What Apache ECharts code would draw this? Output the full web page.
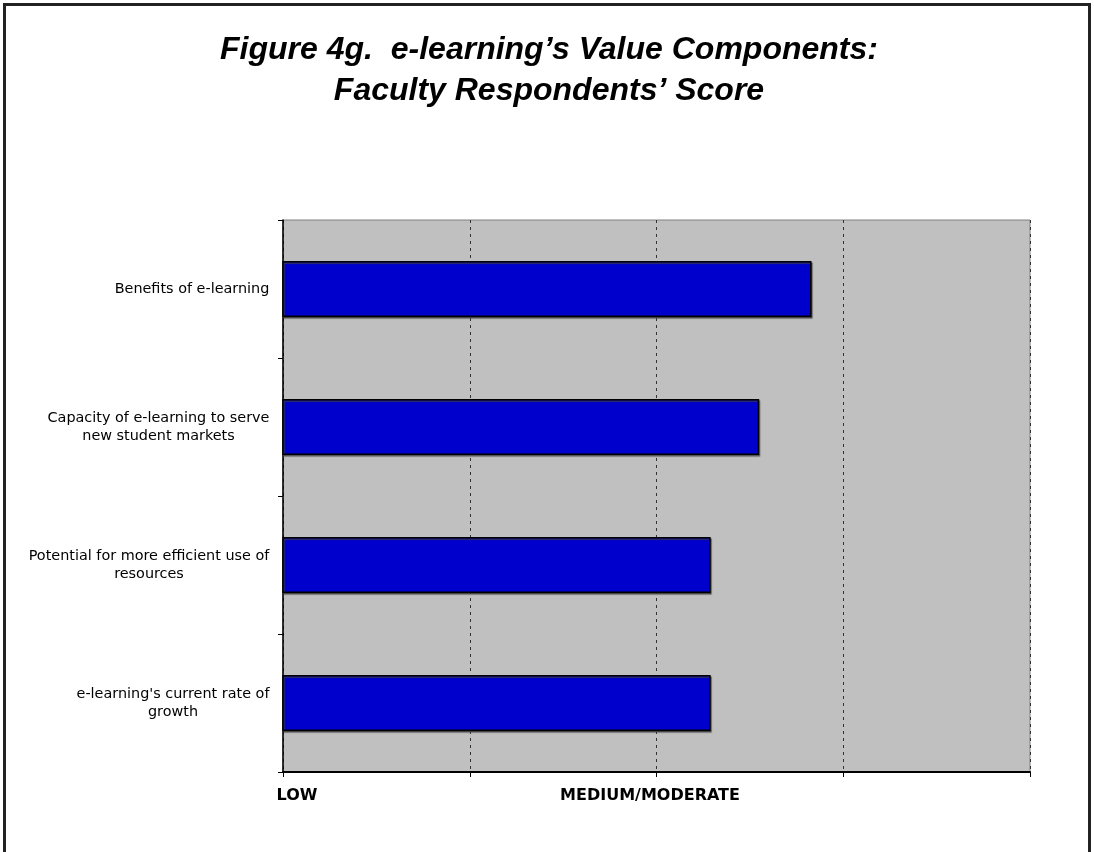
<!DOCTYPE html>
<html>
<head>
<meta charset="utf-8">
<script src="https://cdn.jsdelivr.net/npm/echarts@6/dist/echarts.min.js"></script>
<style>
html,body{margin:0;padding:0;background:#fff;overflow:hidden;}
#frame{position:absolute;left:3px;top:3px;width:1088px;height:860px;border-left:3px solid #222;border-top:3px solid #222;border-right:3px solid #222;box-sizing:border-box;}
#chart{position:absolute;left:0;top:0;width:1094px;height:852px;}
</style>
</head>
<body>
<div id="frame"></div>
<div id="chart"></div>
<script>
const categories = [
  'Benefits of e-learning',
  'Capacity of e-learning to serve\nnew student markets',
  'Potential for more efficient use of\nresources',
  "e-learning's current rate of\ngrowth"
];
const values = [3.83, 3.55, 3.29, 3.29];
const tickLabels = { 1: 'LOW', 3: 'MEDIUM/MODERATE' };
const titleLines = ['Figure 4g.  e-learning\u2019s Value Components:', 'Faculty Respondents\u2019 Score'];

const labelSize = 14.4;
const cv = document.createElement('canvas').getContext('2d');
cv.font = labelSize + 'px "DejaVu Sans"';
const rich = {};
categories.forEach((c, i) => {
  const w = Math.max(...c.split('\n').map(l => cv.measureText(l).width));
  rich['c' + i] = { width: Math.ceil(w) + 1, align: 'center', fontFamily: '"DejaVu Sans"', fontSize: labelSize, lineHeight: 18, color: '#000' };
});

const chart = echarts.init(document.getElementById('chart'));
chart.setOption({
  animation: false,
  title: {
    text: titleLines.join('\n'),
    left: 544, top: 25, textAlign: 'center',
    textStyle: { fontFamily: '"Liberation Sans", Arial', fontStyle: 'italic', fontWeight: 'bold', fontSize: 32, lineHeight: 41, color: '#000' }
  },
  grid: { left: 283, right: 64, top: 220, bottom: 80, show: true, backgroundColor: '#c0c0c0', borderColor: '#808080', borderWidth: 1 },
  xAxis: {
    type: 'value', min: 1, max: 5, interval: 1,
    axisLine: { show: true, onZero: false, lineStyle: { color: '#000', width: 2 } },
    axisTick: { show: true, length: 5, lineStyle: { color: '#000' } },
    splitLine: { show: true, lineStyle: { color: '#333', type: [3, 4], width: 1 } },
    axisLabel: {
      margin: 16,
      formatter: v => tickLabels[v] ? (v === 1 ? '{low|' + tickLabels[v] + '}' : '{b|' + tickLabels[v] + '}') : '',
      rich: {
        low: { fontFamily: '"DejaVu Sans"', fontWeight: 'bold', fontSize: 16, color: '#000', padding: [0, 0, 0, 28] },
        b: { fontFamily: '"DejaVu Sans"', fontWeight: 'bold', fontSize: 16, color: '#000', padding: [0, 13, 0, 0] }
      }
    }
  },
  yAxis: {
    type: 'category', data: categories, inverse: true,
    axisLine: { show: true, lineStyle: { color: '#000', width: 1.5 } },
    axisTick: { show: true, length: 5, lineStyle: { color: '#000' } },
    splitLine: { show: false },
    axisLabel: {
      margin: 13,
      formatter: (v, i) => '{c' + i + '|' + v + '}',
      rich: rich
    }
  },
  series: [{
    type: 'bar', data: values, barWidth: 56,
    itemStyle: { color: '#0000cc', borderColor: '#000', borderWidth: 1.5, shadowColor: 'rgba(60,60,60,0.8)', shadowBlur: 1, shadowOffsetX: 1, shadowOffsetY: 1.5 }
  }]
});
</script>
</body>
</html>
